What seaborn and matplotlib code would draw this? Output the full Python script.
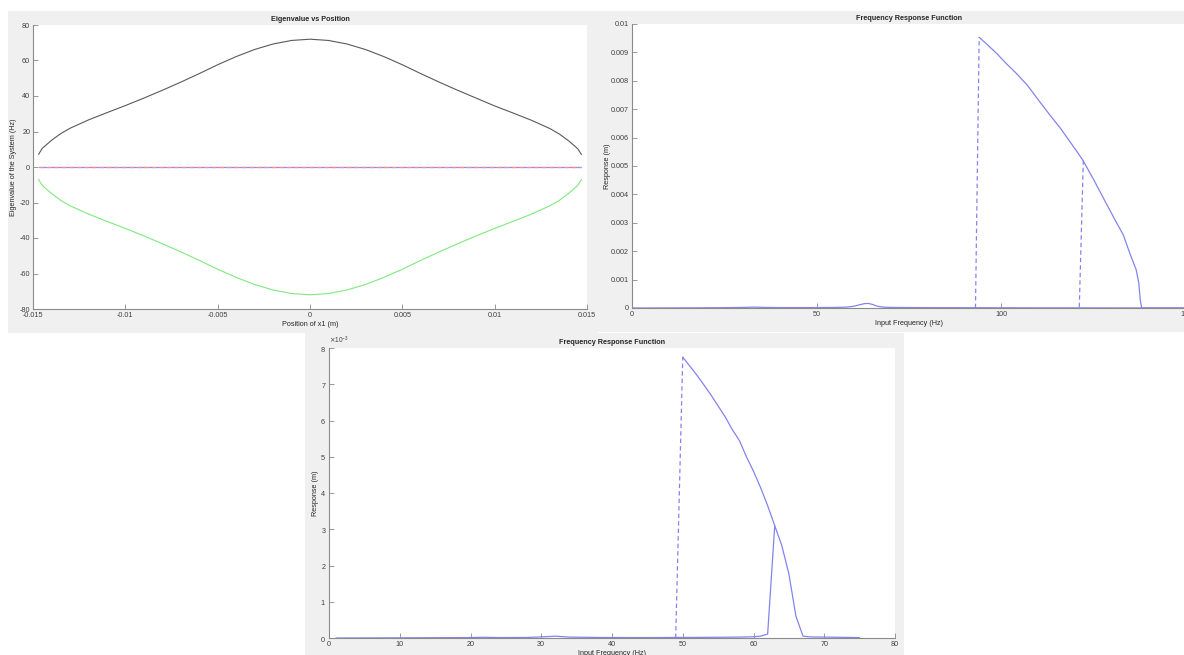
import matplotlib
matplotlib.use('Agg')
import matplotlib.pyplot as plt
from matplotlib.patches import Rectangle
from matplotlib.ticker import FormatStrFormatter
import numpy as np
import seaborn as sns

# Eigenvalue vs position of x1
pos_x1 = [-0.0147, -0.0145, -0.0140, -0.0135, -0.0130, -0.0120, -0.0110, -0.0100, -0.0090,
          -0.0080, -0.0070, -0.0060, -0.0050, -0.0040, -0.0030, -0.0020, -0.0010, 0.0000,
          0.0010, 0.0020, 0.0030, 0.0040, 0.0050, 0.0060, 0.0070, 0.0080, 0.0090,
          0.0100, 0.0110, 0.0120, 0.0130, 0.0135, 0.0140, 0.0145, 0.0147]
eig_upper = [7.1, 10.5, 15.0, 18.8, 21.8, 26.5, 30.6, 34.6, 38.8,
             43.2, 47.8, 52.6, 57.6, 62.2, 66.2, 69.3, 71.3, 72.0,
             71.3, 69.3, 66.2, 62.2, 57.6, 52.6, 47.8, 43.2, 38.8,
             34.4, 30.4, 26.3, 21.6, 18.6, 14.8, 10.3, 7.0]
eig_lower = [-7.0, -10.4, -14.9, -18.8, -21.8, -26.5, -30.6, -34.6, -38.8,
             -43.2, -47.8, -52.6, -57.6, -62.2, -66.2, -69.3, -71.3, -72.0,
             -71.3, -69.3, -66.2, -62.2, -57.6, -52.6, -47.8, -43.2, -38.8,
             -34.6, -30.6, -26.5, -21.8, -18.8, -14.9, -10.4, -7.0]
eig_zero = [0.0] * len(pos_x1)

# FRF 1 (response in mm)
frf1_lo_f = [0, 10, 20, 25, 30, 33, 36, 40, 50, 55, 58, 60, 61.5, 63, 64, 65, 66.5, 68,
             70, 80, 90, 100, 110, 120, 130, 138, 140, 150]
frf1_lo_r = [0.0, 0.003, 0.008, 0.012, 0.02, 0.03, 0.02, 0.015, 0.015, 0.02, 0.03, 0.06,
             0.11, 0.155, 0.16, 0.13, 0.06, 0.03, 0.02, 0.012, 0.01, 0.008, 0.006, 0.005,
             0.004, 0.002, 0.0, 0.0]
frf1_hi_f = [94, 96, 99, 101, 104, 107, 110, 113, 116, 119, 122, 125, 128, 131, 133, 135,
             136.5, 137.2, 137.6, 138, 150]
frf1_hi_r = [9.53, 9.30, 8.93, 8.65, 8.27, 7.85, 7.33, 6.82, 6.33, 5.78, 5.22, 4.52, 3.78,
             3.05, 2.58, 1.85, 1.35, 0.9, 0.3, 0.0, 0.0]
frf1_jump_up_f = [93, 94]
frf1_jump_up_r = [0.0, 9.53]
frf1_jump_dn_f = [122.2, 121.1]
frf1_jump_dn_r = [5.2, 0.0]

# FRF 2 (response in mm)
frf2_lo_f = [1, 5, 10, 15, 20, 22, 24, 28, 30, 32, 34, 38, 42, 46, 50, 55, 58, 60, 61, 62,
             63, 64, 65, 66, 67, 68, 70, 72, 75]
frf2_lo_r = [0.0, 0.002, 0.005, 0.008, 0.012, 0.02, 0.012, 0.015, 0.03, 0.05, 0.025, 0.015,
             0.012, 0.012, 0.015, 0.02, 0.025, 0.035, 0.05, 0.11, 3.1, 2.55, 1.77, 0.6,
             0.05, 0.03, 0.025, 0.02, 0.01]
frf2_hi_f = [50, 51, 52, 53, 54, 55, 56, 57, 58, 59, 60, 61, 62, 63]
frf2_hi_r = [7.75, 7.5, 7.25, 6.98, 6.7, 6.4, 6.1, 5.75, 5.45, 5.0, 4.6, 4.15, 3.65, 3.1]
frf2_jump_f = [49, 50]
frf2_jump_r = [0.0, 7.75]

sns.set_theme(style="ticks")
plt.rcParams['font.family'] = ['Liberation Sans', 'DejaVu Sans']
plt.rcParams['axes.unicode_minus'] = False

W, H = 1184, 655
fig = plt.figure(figsize=(W / 100, H / 100), dpi=100, facecolor='white')

def px_rect(x0, y0, x1, y1):
    return [x0 / W, 1 - y1 / H, (x1 - x0) / W, (y1 - y0) / H]

# grey figure panels like matlab windows
for r in [px_rect(8, 11, 598, 333), px_rect(598, 11, 1184, 332), px_rect(305, 333, 904, 655)]:
    fig.add_artist(Rectangle((r[0], r[1]), r[2], r[3], transform=fig.transFigure,
                             facecolor='#f0f0f0', edgecolor='none', zorder=-5))

ax1 = fig.add_axes(px_rect(33, 25, 587, 309))
ax2 = fig.add_axes(px_rect(632, 24, 1186, 308))
ax3 = fig.add_axes(px_rect(329, 348, 895, 638))

blue = '#8383f0'
fs = 5.2
dash = (0, (3.5, 2.5))

def style_axes(ax):
    ax.set_facecolor('white')
    for s in ['top', 'right']:
        ax.spines[s].set_visible(False)
    for s in ['left', 'bottom']:
        ax.spines[s].set_color('#8a8a8a')
        ax.spines[s].set_linewidth(0.8)
    ax.tick_params(direction='in', length=3.5, width=0.6, color='#8a8a8a',
                   labelsize=fs, labelcolor='#404040', pad=2)
    ax.grid(False)

# Eigenvalue vs Position
sns.lineplot(x=pos_x1, y=eig_upper, ax=ax1, color='#5a5a5a', linewidth=0.8, estimator=None, sort=False)
sns.lineplot(x=pos_x1, y=eig_lower, ax=ax1, color='#80e880', linewidth=0.8, estimator=None, sort=False)
sns.lineplot(x=pos_x1, y=eig_zero, ax=ax1, color='#8c8cff', linewidth=0.9, estimator=None, sort=False)
sns.lineplot(x=pos_x1, y=eig_zero, ax=ax1, color='#ff8c8c', linewidth=0.9, linestyle=dash,
             estimator=None, sort=False)
ax1.set_xlim(-0.015, 0.015)
ax1.set_ylim(-80, 80)
ax1.set_xticks([-0.015, -0.01, -0.005, 0, 0.005, 0.01, 0.015])
ax1.set_yticks([-80, -60, -40, -20, 0, 20, 40, 60, 80])
ax1.xaxis.set_major_formatter(FormatStrFormatter('%g'))
ax1.set_title('Eigenvalue vs Position', fontsize=fs, fontweight='bold', pad=3)
ax1.set_xlabel('Position of x1 (m)', fontsize=fs, labelpad=1.5)
ax1.set_ylabel('Eigenvalue of the System (Hz)', fontsize=fs)
style_axes(ax1)
ax1.yaxis.set_label_coords(-0.028, 0.5)

# Frequency Response Function (first sweep)
mm = 1e-3
sns.lineplot(x=frf1_lo_f, y=np.array(frf1_lo_r) * mm, ax=ax2, color=blue, linewidth=0.9, estimator=None, sort=False)
sns.lineplot(x=frf1_hi_f, y=np.array(frf1_hi_r) * mm, ax=ax2, color=blue, linewidth=0.9, estimator=None, sort=False)
sns.lineplot(x=frf1_jump_up_f, y=np.array(frf1_jump_up_r) * mm, ax=ax2, color=blue, linewidth=0.9,
             linestyle=dash, estimator=None, sort=False)
sns.lineplot(x=frf1_jump_dn_f, y=np.array(frf1_jump_dn_r) * mm, ax=ax2, color=blue, linewidth=0.9,
             linestyle=dash, estimator=None, sort=False)
ax2.set_xlim(0, 150)
ax2.set_ylim(0, 0.01)
ax2.set_xticks([0, 50, 100, 150])
ax2.set_yticks([0, 0.001, 0.002, 0.003, 0.004, 0.005, 0.006, 0.007, 0.008, 0.009, 0.01])
ax2.yaxis.set_major_formatter(FormatStrFormatter('%g'))
ax2.set_title('Frequency Response Function', fontsize=fs, fontweight='bold', pad=3)
ax2.set_xlabel('Input Frequency (Hz)', fontsize=fs, labelpad=1.5)
ax2.set_ylabel('Response (m)', fontsize=fs)
style_axes(ax2)
ax2.yaxis.set_label_coords(-0.038, 0.5)

# Frequency Response Function (second sweep)
sns.lineplot(x=frf2_lo_f, y=np.array(frf2_lo_r) * mm, ax=ax3, color=blue, linewidth=0.9, estimator=None, sort=False)
sns.lineplot(x=frf2_hi_f, y=np.array(frf2_hi_r) * mm, ax=ax3, color=blue, linewidth=0.9, estimator=None, sort=False)
sns.lineplot(x=frf2_jump_f, y=np.array(frf2_jump_r) * mm, ax=ax3, color=blue, linewidth=0.9,
             linestyle=dash, estimator=None, sort=False)
ax3.set_xlim(0, 80)
ax3.set_ylim(0, 0.008)
ax3.set_xticks([0, 10, 20, 30, 40, 50, 60, 70, 80])
ax3.set_yticks([0, 0.001, 0.002, 0.003, 0.004, 0.005, 0.006, 0.007, 0.008])
ax3.ticklabel_format(axis='y', style='sci', scilimits=(-3, -3), useMathText=True)
ax3.yaxis.get_offset_text().set_fontsize(fs - 0.5)
ax3.yaxis.get_offset_text().set_color('#404040')
ax3.set_title('Frequency Response Function', fontsize=fs, fontweight='bold', pad=3)
ax3.set_xlabel('Input Frequency (Hz)', fontsize=fs, labelpad=1.5)
ax3.set_ylabel('Response (m)', fontsize=fs)
style_axes(ax3)
ax3.yaxis.set_label_coords(-0.018, 0.5)

fig.savefig('out.png', dpi=100, facecolor='white')
